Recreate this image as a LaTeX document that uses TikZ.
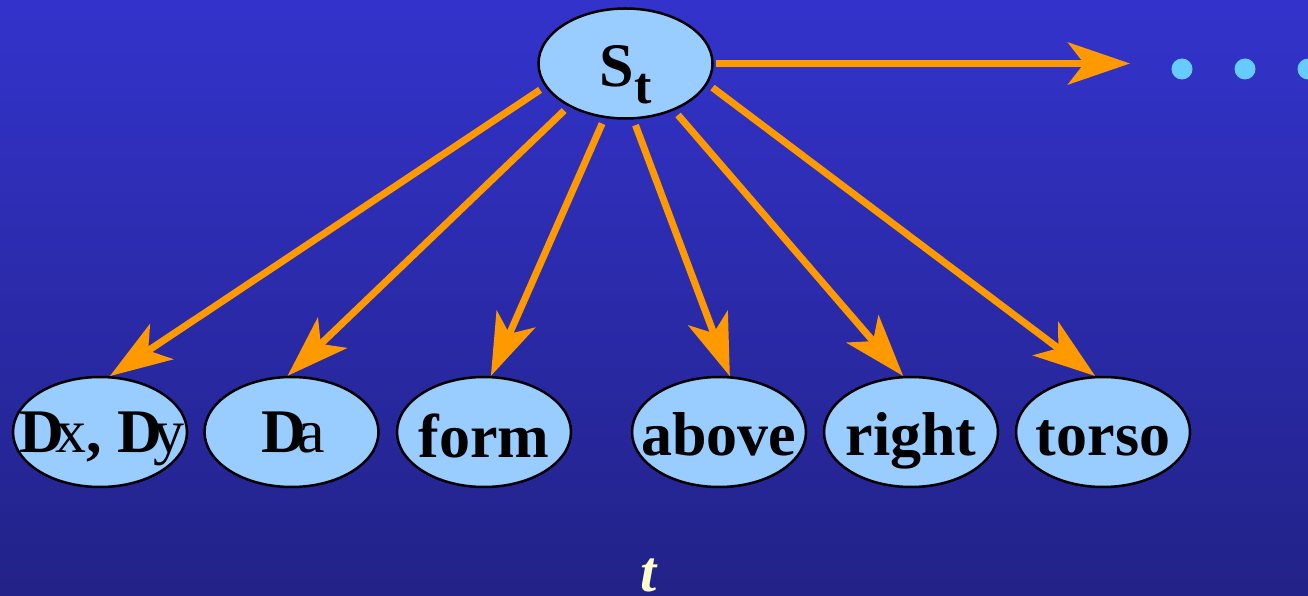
\documentclass[tikz,border=0pt]{standalone}
\usepackage{fontspec}
\setmainfont{Liberation Serif}
\usetikzlibrary{arrows.meta,shapes.geometric}
\definecolor{bgtop}{RGB}{51,51,204}
\definecolor{bgbot}{RGB}{34,34,136}
\definecolor{ellfill}{RGB}{153,204,255}
\definecolor{arr}{RGB}{255,153,0}
\definecolor{dotc}{RGB}{102,204,255}
\definecolor{tcol}{RGB}{255,255,204}
\begin{document}
\begin{tikzpicture}[x=1pt,y=1pt,
  ell/.style={ellipse, draw=black, line width=2.5pt, fill=ellfill, minimum width=174pt, minimum height=110pt, inner sep=0pt},
  lbl/.style={anchor=base, inner sep=0pt, font=\fontsize{62}{70}\selectfont\bfseries},
  link/.style={draw=arr, line width=7pt, shorten <=6pt, -{Stealth[length=62pt,width=42pt,inset=16pt]}},
  dotn/.style={circle, fill=dotc, minimum size=21pt, inner sep=0pt}]
\useasboundingbox (0,0) rectangle (1308,595);
\shade[top color=bgtop, bottom color=bgbot] (0,0) rectangle (1308,595);

% nodes
\node[ell] (St) at (625.5,531.5) {};
\node[ell] (Dx) at (100,163) {};
\node[ell] (Da) at (291.5,163) {};
\node[ell] (form) at (484,163) {};
\node[ell] (above) at (719,163) {};
\node[ell] (right) at (911,163) {};
\node[ell] (torso) at (1103,163) {};

% labels
\node[lbl] (tSt) at ([yshift=-23.5pt]St.center) {S\raisebox{-17pt}{\fontsize{52}{52}\selectfont t}};
\node[lbl] (tDx) at ([xshift=2pt,yshift=-20pt]Dx.center) {D\kern-9pt{\mdseries x},\ D\kern-9pt{\mdseries y}};
\node[lbl] (tDa) at ([xshift=2pt,yshift=-20pt]Da.center) {D\kern-9pt{\mdseries a}};
\node[lbl] (tform) at ([yshift=-25pt]form.center) {form};
\node[lbl] (tabove) at ([yshift=-23pt]above.center) {above};
\node[lbl] (tright) at ([yshift=-23pt]right.center) {right};
\node[lbl] (ttorso) at ([yshift=-23pt]torso.center) {torso};

% dots
\node[dotn] (d1) at (1182,526) {};
\node[dotn] (d2) at (1245,526) {};
\node[dotn] (d3) at (1308,526) {};

% time label
\node[anchor=base, inner sep=0pt, text=tcol, font=\fontsize{58}{60}\selectfont\bfseries\itshape] (tlab) at (648.5,4) {t};

% connectors
\coordinate (hend) at (1130,531.5);
\draw[link] (St.196) -- (Dx.80);
\draw[link] (St.217) -- (Da.94);
\draw[link] (St.249) -- (form.83);
\draw[link] (St.278) -- (above.79);
\draw[link] (St.-44) -- (right.98);
\draw[link] (St.-14) -- (torso.98);
\draw[link, shorten <=2pt] (St.east) -- (hend);
\end{tikzpicture}
\end{document}
